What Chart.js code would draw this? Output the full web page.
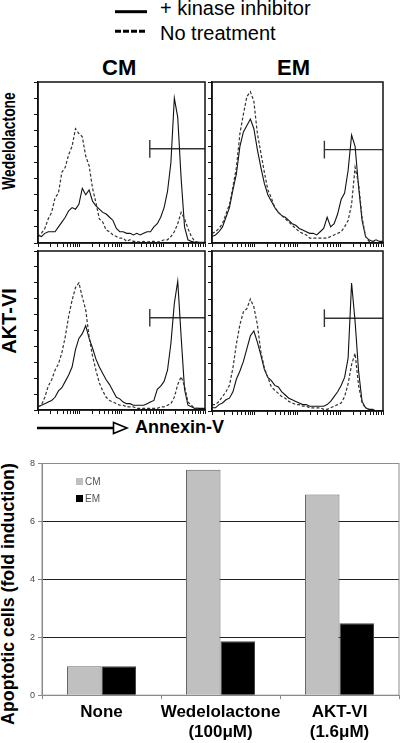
<!DOCTYPE html>
<html>
<head>
<meta charset="utf-8">
<script src="https://cdn.jsdelivr.net/npm/chart.js@4.4.0/dist/chart.umd.min.js"></script>
<style>
  body { margin: 0; width: 400px; height: 743px; position: relative; overflow: hidden; background: #fff;
         font-family: "Liberation Sans", Arial, sans-serif; color: #000; }
  canvas, .txt, svg { position: absolute; }
  .txt { white-space: nowrap; }
  .rot { transform: translate(-50%, -50%) rotate(-90deg); line-height: 1; font-weight: bold; }
</style>
</head>
<body>

<svg style="left:0;top:0" width="400" height="440">
  <line x1="115" y1="11.7" x2="147" y2="11.7" stroke="#000" stroke-width="3"/>
  <line x1="115" y1="31.3" x2="147" y2="31.3" stroke="#000" stroke-width="3" stroke-dasharray="6 2"/>
  <line x1="37" y1="428" x2="113" y2="428" stroke="#000" stroke-width="2.5"/>
  <polygon points="113.5,422.5 113.5,433.5 127,428" fill="#fff" stroke="#000" stroke-width="1.6"/>
</svg>
<div class="txt" style="left:160px;top:-2px;font-size:20px;line-height:20px">+ kinase inhibitor</div>
<div class="txt" style="left:160px;top:22.5px;font-size:20px;line-height:20px">No treatment</div>
<div class="txt" style="left:102px;top:57px;font-size:22px;line-height:22px;font-weight:bold">CM</div>
<div class="txt" style="left:277px;top:57px;font-size:22px;line-height:22px;font-weight:bold">EM</div>
<div class="txt rot" style="left:8.5px;top:141px;font-size:18px;transform:translate(-50%,-50%) rotate(-90deg) scaleX(0.77)">Wedelolactone</div>
<div class="txt rot" style="left:8.5px;top:321px;font-size:20px">AKT-VI</div>
<div class="txt" style="left:135px;top:418px;font-size:18px;line-height:18px;font-weight:bold">Annexin-V</div>
<div class="txt rot" style="left:8.5px;top:594px;font-size:17.8px">Apoptotic cells (fold induction)</div>

<canvas id="cmWed"></canvas>
<canvas id="emWed"></canvas>
<canvas id="cmAkt"></canvas>
<canvas id="emAkt"></canvas>
<canvas id="bars" width="400" height="306" style="left:0;top:440px"></canvas>

<script>
// --- histogram data: % of panel height per channel bin (0..49), log Annexin-V axis ---
var cmWedSolid  = [5,4,6,7,7,7,10,13,16,20, 22,21,24,34,30,33,26,23,21,19, 18,16,14,9,7,7,6,6,5,6, 5,6,7,7,10,12,16,22,32,50, 90,78,40,10,2,1,0.5,0.5,0.5,0.5];
var cmWedDashed = [3.7,6,9,15,19,28,31,44,47,55, 60,71,68,66,54,48,34,25,15,13, 8,7,5,4,3,3,1,2,1,1, 0.5,1,0.5,1,1,0.5,1,2,2,4, 7,12,19,15,9,4,1,0.5,0,0];
var emWedSolid  = [4,5,7,10,16,22,33,43,60,69, 73,77,71,58,47,37,30,26,22,19, 17,16,14,12,11,9,8,7,6,6, 5,7,9,16,10,12,18,27,31,45, 67,60,35,14,4,2,1,2,1,1];
var emWedDashed = [6,7,9,12,18,24,35,47,68,80, 91,94,88,68,56,44,33,28,22,19, 17,15,13,11,9,7,6,5,3,3, 3,3,3,3,4,5,6,7,10,14, 24,47,37,16,4,1,1,0,0,0];
var cmAktSolid  = [2,3,4,5,6,8,12,14,18,22, 27,38,45,48,53,45,39,32,27,23, 19,16,12,8,7,5,4,4,3,3, 3,3,4,5,6,13,15,18,25,42, 67,81,46,13,3,2,1,1,1,1];
var cmAktDashed = [2,3,8,15,19,25,29,36,46,59, 69,77,80,71,63,46,34,25,17,12, 8,6,5,4,3,3,2,2,2,1, 1,1,1,1,1,1,2,2,3,4, 8,16,21,15,5,3,1,1,0,0];
var emAktSolid  = [2,2,4,5,7,8,12,20,25,31, 39,47,50,43,35,26,21,19,16,15, 12,10,8,7,6,5,4,4,3,3, 3,3,3,4,6,9,12,16,21,33, 80,56,25,6,2,1,1,0,0,0];
var emAktDashed = [4,4,6,9,12,16,27,42,54,62, 64,70,65,54,37,27,21,15,13,11, 9,8,6,5,4,4,3,3,2,2, 2,2,1,1,2,3,4,5,9,17, 29,36,16,5,2,1,0,0,0,0];

// gate marker (start bin, level) for cmWed, emWed, cmAkt, emAkt
var gateStarts = [32.8, 32.2, 32.8, 32.2];
var gateLevels = [58.5, 58, 58, 58];
var gateHalf = 5.5;
var lastBin = 49;

// --- bar chart data ---
var treatments = [['None'], ['Wedelolactone', '(100μM)'], ['AKT-VI', '(1.6μM)']];
var cmFold = [1.0, 7.78, 6.93];
var emFold = [1.0, 1.86, 2.48];

Chart.defaults.font.family = '"Liberation Sans", Arial, sans-serif';

// log decade tick positions along the bin axis (1 .. 10^4)
var logTicks = [];
for (var d = 0; d < 4; d++) {
  for (var m = 1; m < 10; m++) logTicks.push(lastBin * (d + Math.log10(m)) / 4);
}
logTicks.push(lastBin);

var frame = {
  id: 'frame',
  afterDraw: function (chart, args, o) {
    var a = chart.chartArea, ctx = chart.ctx;
    ctx.save();
    ctx.strokeStyle = o.color;
    ctx.lineWidth = o.width;
    ctx.strokeRect(a.left, a.top, a.right - a.left, a.bottom - a.top);
    ctx.restore();
  }
};

// panel boxes on the page: left, top, right, bottom
var panels = {
  cmWed: [38, 82, 205, 243],
  emWed: [212, 82, 383, 243],
  cmAkt: [38, 251, 205, 410],
  emAkt: [212, 251, 383, 411]
};

function pts(arr) {
  return arr.map(function (v, i) { return {x: i, y: v}; });
}

function histPanel(id, solid, dashed, k) {
  var p = panels[id];
  var cv = document.getElementById(id);
  cv.width = p[2] - p[0] + 6;
  cv.height = p[3] - p[1] + 5;
  cv.style.left = (p[0] - 4) + 'px';
  cv.style.top = (p[1] - 1) + 'px';
  new Chart(cv, {
    type: 'line',
    data: {
      datasets: [
        {data: pts(dashed), borderColor: '#333', borderWidth: 1.2, borderDash: [3, 2]},
        {data: pts(solid), borderColor: '#111', borderWidth: 1.1},
        {data: [{x: gateStarts[k], y: gateLevels[k]}, {x: lastBin, y: gateLevels[k]}], borderColor: '#333', borderWidth: 1.4},
        {data: [{x: gateStarts[k], y: gateLevels[k] - gateHalf}, {x: gateStarts[k], y: gateLevels[k] + gateHalf}], borderColor: '#333', borderWidth: 1.4}
      ]
    },
    options: {
      responsive: false,
      animation: false,
      layout: {padding: {top: 1, right: 2}},
      elements: {point: {radius: 0}, line: {tension: 0, fill: false}},
      plugins: {legend: {display: false}, tooltip: {enabled: false}, frame: {color: '#111', width: 1.5}},
      scales: {
        x: {
          type: 'linear', min: 0, max: lastBin,
          afterBuildTicks: function (s) { s.ticks = logTicks.map(function (v) { return {value: v}; }); },
          ticks: {display: false},
          grid: {drawOnChartArea: false, tickLength: 4, color: '#111'},
          border: {color: '#111', width: 1.5}
        },
        y: {
          min: 0, max: 100,
          ticks: {display: false, stepSize: 10},
          grid: {drawOnChartArea: false, tickLength: 4, color: '#111'},
          border: {color: '#111', width: 1.5}
        }
      }
    },
    plugins: [frame]
  });
}

histPanel('cmWed', cmWedSolid, cmWedDashed, 0);
histPanel('emWed', emWedSolid, emWedDashed, 1);
histPanel('cmAkt', cmAktSolid, cmAktDashed, 2);
histPanel('emAkt', emAktSolid, emAktDashed, 3);

var plotFrame = {
  id: 'plotFrame',
  beforeDatasetsDraw: function (chart) {
    var a = chart.chartArea, ctx = chart.ctx;
    ctx.save();
    ctx.strokeStyle = '#8c8c8c';
    ctx.lineWidth = 1;
    ctx.strokeRect(a.left, a.top, a.right - a.left, a.bottom - a.top);
    ctx.restore();
  }
};

var boxLegend = {
  id: 'boxLegend',
  afterDraw: function (chart, args, o) {
    var a = chart.chartArea, ctx = chart.ctx;
    ctx.save();
    ctx.font = '10px "Liberation Sans", Arial, sans-serif';
    ctx.textBaseline = 'middle';
    chart.data.datasets.forEach(function (ds, i) {
      var x = a.left + o.x, y = a.top + o.y + i * o.step;
      ctx.fillStyle = ds.backgroundColor;
      ctx.fillRect(x, y, 7, 7);
      ctx.fillStyle = '#555';
      ctx.fillText(ds.label, x + 9, y + 4);
    });
    ctx.restore();
  }
};

new Chart(document.getElementById('bars'), {
  type: 'bar',
  data: {
    labels: treatments,
    datasets: [
      {label: 'CM', data: cmFold, backgroundColor: '#c0c0c0', borderColor: '#666', borderWidth: 1},
      {label: 'EM', data: emFold, backgroundColor: '#000', borderColor: '#444', borderWidth: 1}
    ]
  },
  options: {
    responsive: false,
    animation: false,
    layout: {padding: {left: 27, top: 23.5, right: 1}},
    datasets: {bar: {categoryPercentage: 0.58, barPercentage: 1}},
    plugins: {legend: {display: false}, tooltip: {enabled: false}, boxLegend: {x: 34, y: 14.5, step: 17}},
    scales: {
      x: {
        grid: {drawOnChartArea: false, tickLength: 4, color: '#888'},
        border: {color: '#888'},
        ticks: {color: '#000', font: {size: 17, weight: 'bold'}, padding: 3, crossAlign: 'near', maxRotation: 0, autoSkip: false}
      },
      y: {
        min: 0, max: 8,
        ticks: {stepSize: 2, color: '#444', font: {size: 9}, padding: 3},
        grid: {
          color: function (c) { return (c.tick.value > 0 && c.tick.value < 8) ? '#222' : 'rgba(0,0,0,0)'; },
          tickColor: '#888', tickLength: 4
        },
        border: {color: '#888'}
      }
    }
  },
  plugins: [plotFrame, boxLegend]
});
</script>
</body>
</html>
